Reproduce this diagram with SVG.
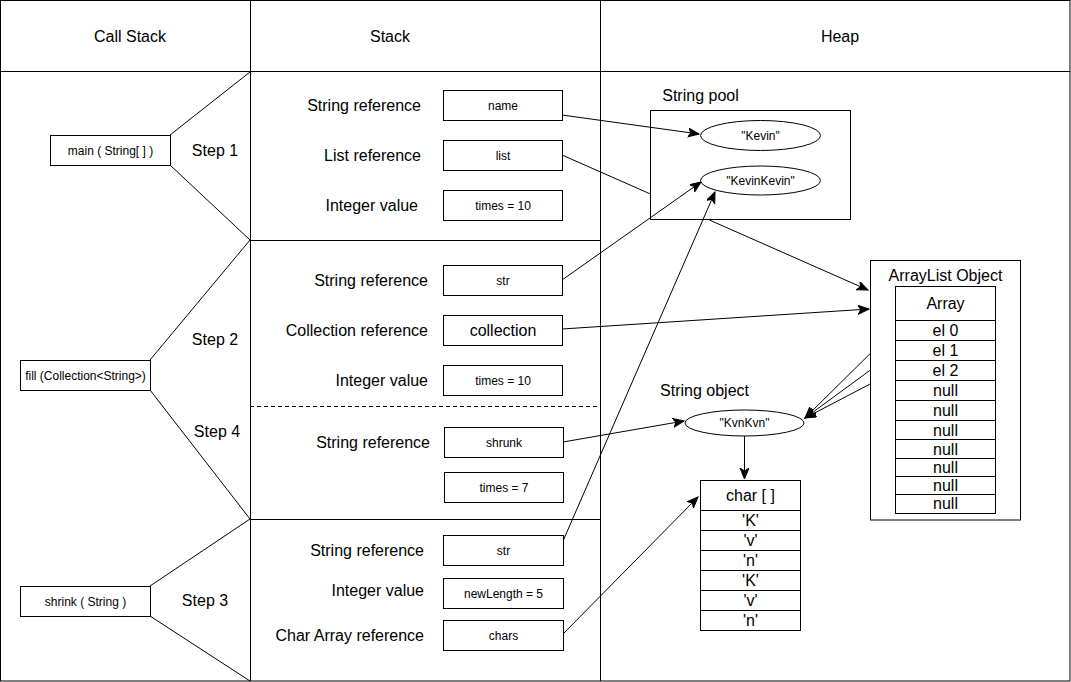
<svg xmlns="http://www.w3.org/2000/svg" width="1071" height="682" viewBox="0 0 1071 682">
<style>
text { font-family: "Liberation Sans", Arial, sans-serif; fill: #000; }
.t16 { font-size: 16px; }
.t12 { font-size: 12px; }
.m { text-anchor: middle; }
.e { text-anchor: end; }
.box { fill: #fff; stroke: #000; stroke-width: 1; }
.ln { fill: none; stroke: #000; stroke-width: 1; }
.dash { fill: none; stroke: #000; stroke-width: 1; stroke-dasharray: 4 3; }
.arr { fill: none; stroke: #000; stroke-width: 1; marker-end: url(#ah); }
</style>
<defs>
<marker id="ah" markerUnits="userSpaceOnUse" markerWidth="14" markerHeight="10" refX="11" refY="4.5" orient="auto" viewBox="0 0 14 10">
<path d="M0,0 L11,4.5 L0,9 L3,4.5 z" fill="#000" stroke="#000" stroke-width="1"/>
</marker>
</defs>
<rect x="0" y="0" width="1071" height="682" fill="#fff"/>

<g id="frame">
<rect x="0.5" y="0.5" width="1069.5" height="680.5" class="ln"/>
<line x1="0" y1="71.5" x2="1070" y2="71.5" class="ln"/>
<line x1="250.5" y1="0" x2="250.5" y2="681" class="ln"/>
<line x1="600.5" y1="0" x2="600.5" y2="681" class="ln"/>
<line x1="250" y1="240.5" x2="600" y2="240.5" class="ln"/>
<line x1="250" y1="519.5" x2="600" y2="519.5" class="ln"/>
<line x1="250" y1="406.5" x2="600" y2="406.5" class="dash"/>
<line x1="170" y1="135" x2="250" y2="72" class="ln"/>
<line x1="170" y1="165" x2="250" y2="240" class="ln"/>
<line x1="150" y1="360" x2="250" y2="240" class="ln"/>
<line x1="150" y1="390" x2="250" y2="519" class="ln"/>
<line x1="150" y1="586" x2="250" y2="519" class="ln"/>
<line x1="150" y1="616" x2="250" y2="681" class="ln"/>
<text x="130" y="41.6" class="t16 m">Call Stack</text>
<text x="390" y="41.6" class="t16 m">Stack</text>
<text x="840" y="41.6" class="t16 m">Heap</text>
<text x="215" y="155.6" class="t16 m">Step 1</text>
<text x="215" y="344.6" class="t16 m">Step 2</text>
<text x="217" y="436.6" class="t16 m">Step 4</text>
<text x="205" y="605.6" class="t16 m">Step 3</text>
</g>

<g id="string-pool">
<text x="700.5" y="100.6" class="t16 m">String pool</text>
<rect x="650.5" y="110.5" width="200" height="109" class="box"/>
</g>

<g id="connectors">
<path d="M562,155 L650,193.8 M709.4,220 L868,290" class="arr"/>
<path d="M562,115 L699,134" class="arr"/>
<path d="M562,280 L701,182" class="arr"/>
<path d="M563,541 L715,192" class="arr"/>
<path d="M562,329 L869,309" class="arr"/>
<path d="M563,442 L684,421" class="arr"/>
<path d="M563,634 L698,497" class="arr"/>
<path d="M744.5,436 L744.5,479" class="arr"/>
<path d="M895,329 L805,418" class="arr"/>
<path d="M895,352 L805,418" class="arr"/>
<path d="M895,371 L805,418" class="arr"/>
</g>

<g id="main">
<rect x="50.5" y="135.5" width="120" height="30" class="box"/>
<text x="110.5" y="154.7" class="t12 m">main ( String[ ] )</text>
</g>
<g id="fill">
<rect x="20.5" y="360.5" width="130" height="30" class="box"/>
<text x="85.5" y="379.7" class="t12 m">fill (Collection&lt;String&gt;)</text>
</g>
<g id="shrink">
<rect x="20.5" y="586.5" width="130" height="30" class="box"/>
<text x="85.5" y="605.7" class="t12 m">shrink ( String )</text>
</g>

<g id="step1-name">
<text x="421" y="110.6" class="t16 e">String reference</text>
<rect x="443.5" y="90.5" width="119" height="30" class="box"/>
<text x="503" y="109.7" class="t12 m">name</text>
</g>
<g id="step1-list">
<text x="421" y="160.6" class="t16 e">List reference</text>
<rect x="443.5" y="140.5" width="119" height="30" class="box"/>
<text x="503" y="159.7" class="t12 m">list</text>
</g>
<g id="step1-times">
<text x="418" y="210.6" class="t16 e">Integer value</text>
<rect x="443.5" y="190.5" width="119" height="30" class="box"/>
<text x="503" y="209.7" class="t12 m">times = 10</text>
</g>

<g id="step2-str">
<text x="428" y="285.6" class="t16 e">String reference</text>
<rect x="443.5" y="265.5" width="119" height="30" class="box"/>
<text x="503" y="284.7" class="t12 m">str</text>
</g>
<g id="step2-collection">
<text x="428" y="335.6" class="t16 e">Collection reference</text>
<rect x="443.5" y="315.5" width="119" height="30" class="box"/>
<text x="503" y="335.6" class="t16 m">collection</text>
</g>
<g id="step2-times">
<text x="428" y="385.6" class="t16 e">Integer value</text>
<rect x="443.5" y="365.5" width="119" height="30" class="box"/>
<text x="503" y="384.7" class="t12 m">times = 10</text>
</g>

<g id="step4-shrunk">
<text x="430" y="447.6" class="t16 e">String reference</text>
<rect x="444.5" y="427.5" width="119" height="30" class="box"/>
<text x="504" y="446.7" class="t12 m">shrunk</text>
</g>
<g id="step4-times">
<rect x="444.5" y="472.5" width="119" height="30" class="box"/>
<text x="504" y="491.7" class="t12 m">times = 7</text>
</g>

<g id="step3-str">
<text x="424" y="555.6" class="t16 e">String reference</text>
<rect x="443.5" y="535.5" width="120" height="30" class="box"/>
<text x="503.5" y="554.7" class="t12 m">str</text>
</g>
<g id="step3-newLength">
<text x="424" y="595.6" class="t16 e">Integer value</text>
<rect x="443.5" y="578.5" width="120" height="30" class="box"/>
<text x="503.5" y="597.7" class="t12 m">newLength = 5</text>
</g>
<g id="step3-chars">
<text x="424" y="640.6" class="t16 e">Char Array reference</text>
<rect x="443.5" y="620.5" width="120" height="30" class="box"/>
<text x="503.5" y="639.7" class="t12 m">chars</text>
</g>

<g id="kevin">
<ellipse cx="760.5" cy="135.5" rx="60" ry="15" class="box"/>
<text x="760.5" y="139.7" class="t12 m">"Kevin"</text>
</g>
<g id="kevinkevin">
<ellipse cx="760.5" cy="180.5" rx="60" ry="14.5" class="box"/>
<text x="760.5" y="184.7" class="t12 m">"KevinKevin"</text>
</g>

<g id="arraylist">
<rect x="870.5" y="260.5" width="150" height="259.5" class="box"/>
<text x="945.5" y="280.6" class="t16 m">ArrayList Object</text>
<rect x="895.5" y="286.5" width="100" height="34" class="box"/>
<text x="945.5" y="309.1" class="t16 m">Array</text>
<rect x="895.5" y="320.5" width="100" height="20" class="box"/>
<text x="945.5" y="336.1" class="t16 m">el 0</text>
<rect x="895.5" y="340.5" width="100" height="20" class="box"/>
<text x="945.5" y="356.1" class="t16 m">el 1</text>
<rect x="895.5" y="360.5" width="100" height="20" class="box"/>
<text x="945.5" y="376.1" class="t16 m">el 2</text>
<rect x="895.5" y="380.5" width="100" height="20" class="box"/>
<text x="945.5" y="396.1" class="t16 m">null</text>
<rect x="895.5" y="400.5" width="100" height="20" class="box"/>
<text x="945.5" y="416.1" class="t16 m">null</text>
<rect x="895.5" y="420.5" width="100" height="19" class="box"/>
<text x="945.5" y="435.6" class="t16 m">null</text>
<rect x="895.5" y="439.5" width="100" height="19" class="box"/>
<text x="945.5" y="454.6" class="t16 m">null</text>
<rect x="895.5" y="458.5" width="100" height="18" class="box"/>
<text x="945.5" y="472.6" class="t16 m">null</text>
<rect x="895.5" y="476.5" width="100" height="18" class="box"/>
<text x="945.5" y="490.6" class="t16 m">null</text>
<rect x="895.5" y="494.5" width="100" height="19" class="box"/>
<text x="945.5" y="508.6" class="t16 m">null</text>
</g>

<g id="string-object">
<text x="704.5" y="395.6" class="t16 m">String object</text>
<ellipse cx="744.5" cy="423" rx="59.5" ry="13" class="box"/>
<text x="744.5" y="427.2" class="t12 m">"KvnKvn"</text>
</g>

<g id="char-array">
<rect x="700.5" y="480.5" width="100" height="30" class="box"/>
<text x="750.5" y="501.1" class="t16 m">char [ ]</text>
<rect x="700.5" y="510.5" width="100" height="20" class="box"/>
<text x="750.5" y="526.1" class="t16 m">'K'</text>
<rect x="700.5" y="530.5" width="100" height="20" class="box"/>
<text x="750.5" y="546.1" class="t16 m">'v'</text>
<rect x="700.5" y="550.5" width="100" height="20" class="box"/>
<text x="750.5" y="566.1" class="t16 m">'n'</text>
<rect x="700.5" y="570.5" width="100" height="20" class="box"/>
<text x="750.5" y="586.1" class="t16 m">'K'</text>
<rect x="700.5" y="590.5" width="100" height="20" class="box"/>
<text x="750.5" y="606.1" class="t16 m">'v'</text>
<rect x="700.5" y="610.5" width="100" height="20" class="box"/>
<text x="750.5" y="626.1" class="t16 m">'n'</text>
</g>
</svg>
